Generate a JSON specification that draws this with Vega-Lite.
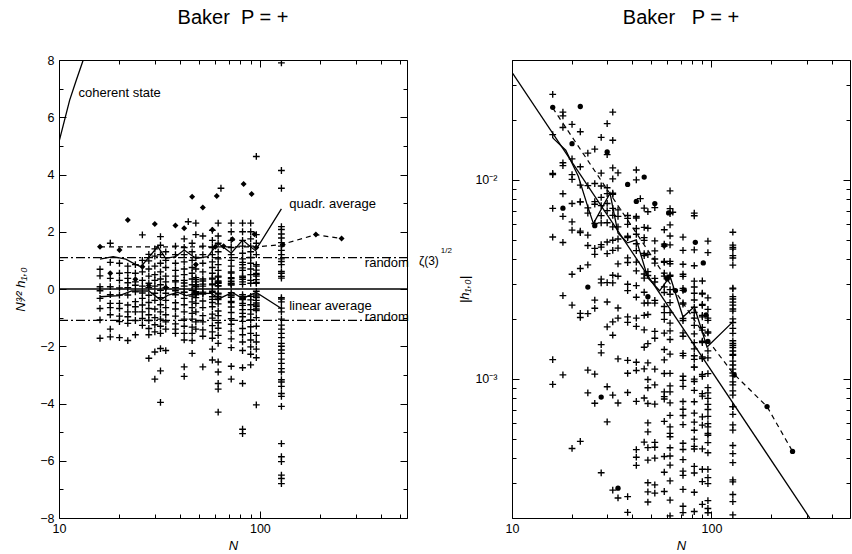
{
  "$schema": "https://vega.github.io/schema/vega-lite/v6.json",
  "padding": {"left": 14, "top": 7, "right": 0, "bottom": 0},
  "background": "white",
  "bounds": "flush",
  "spacing": 105,
  "config": {
    "font": "Liberation Sans",
    "view": {"stroke": "black", "strokeWidth": 1},
    "axis": {"grid": false, "domain": false, "tickColor": "black", "labelColor": "black", "titleColor": "black", "labelFontSize": 12.5, "titleFontSize": 13, "titleFontWeight": "normal", "labelOverlap": false, "labelBound": false, "labelFlush": false, "tickWidth": 1, "labelFont": "Liberation Sans", "titleFont": "Liberation Sans"},
    "title": {"fontSize": 20, "fontWeight": "normal", "color": "black", "font": "Liberation Sans"}
  },
  "datasets": {
    "cross": [
      {"N":16,"v":0.69,"h":0.01078},{"N":16,"v":0.46,"h":0.00719},{"N":16,"v":0.08,"h":0.00125},{"N":16,"v":-0.06,"h":0.000938},{"N":16,"v":-0.33,"h":0.00516},{"N":16,"v":-0.68,"h":0.01063},{"N":16,"v":-1.08,"h":0.01688},{"N":16,"v":-1.72,"h":0.02688},
      {"N":18,"v":1.6,"h":0.02095},{"N":18,"v":0.93,"h":0.01218},{"N":18,"v":0.37,"h":0.004845},{"N":18,"v":0.08,"h":0.001048},{"N":18,"v":-0.2,"h":0.002619},{"N":18,"v":-0.5,"h":0.006548},{"N":18,"v":-0.65,"h":0.008512},{"N":18,"v":-0.9,"h":0.01179},{"N":18,"v":-1.4,"h":0.01833},{"N":18,"v":-1.67,"h":0.02187},
      {"N":20,"v":0.9,"h":0.01006},{"N":20,"v":0.55,"h":0.006149},{"N":20,"v":0.3,"h":0.003354},{"N":20,"v":0.04,"h":0.000447},{"N":20,"v":-0.21,"h":0.002348},{"N":20,"v":-0.5,"h":0.00559},{"N":20,"v":-0.68,"h":0.007602},{"N":20,"v":-0.95,"h":0.01062},{"N":20,"v":-1.14,"h":0.01275},{"N":20,"v":-1.7,"h":0.01901},
      {"N":22,"v":0.8,"h":0.007753},{"N":22,"v":0.57,"h":0.005524},{"N":22,"v":0.37,"h":0.003586},{"N":22,"v":0.22,"h":0.002132},{"N":22,"v":0.05,"h":0.000485},{"N":22,"v":-0.21,"h":0.002035},{"N":22,"v":-0.56,"h":0.005427},{"N":22,"v":-0.8,"h":0.007753},{"N":22,"v":-0.97,"h":0.0094},{"N":22,"v":-1.2,"h":0.01163},{"N":22,"v":-1.8,"h":0.01744},
      {"N":24,"v":0.85,"h":0.007229},{"N":24,"v":0.55,"h":0.004678},{"N":24,"v":0.25,"h":0.002126},{"N":24,"v":0.13,"h":0.001106},{"N":24,"v":-0.1,"h":0.0008505},{"N":24,"v":-0.44,"h":0.003742},{"N":24,"v":-0.62,"h":0.005273},{"N":24,"v":-0.8,"h":0.006804},{"N":24,"v":-1.1,"h":0.009356},{"N":24,"v":-1.6,"h":0.01361},
      {"N":26,"v":1.89,"h":0.01426},{"N":26,"v":1.0,"h":0.007543},{"N":26,"v":0.6,"h":0.004526},{"N":26,"v":0.3,"h":0.002263},{"N":26,"v":0.1,"h":0.000754},{"N":26,"v":-0.14,"h":0.001056},{"N":26,"v":-0.33,"h":0.002489},{"N":26,"v":-0.56,"h":0.004224},{"N":26,"v":-0.8,"h":0.006034},{"N":26,"v":-1.03,"h":0.00777},{"N":26,"v":-1.27,"h":0.00958},
      {"N":28,"v":1.21,"h":0.008167},{"N":28,"v":0.98,"h":0.006614},{"N":28,"v":0.7,"h":0.004725},{"N":28,"v":0.45,"h":0.003037},{"N":28,"v":0.2,"h":0.00135},{"N":28,"v":0.05,"h":0.0003375},{"N":28,"v":-0.22,"h":0.001485},{"N":28,"v":-0.47,"h":0.003172},{"N":28,"v":-0.68,"h":0.00459},{"N":28,"v":-0.9,"h":0.006074},{"N":28,"v":-1.1,"h":0.007424},{"N":28,"v":-1.38,"h":0.009314},{"N":28,"v":-1.6,"h":0.0108},{"N":28,"v":-2.42,"h":0.01633},
      {"N":30,"v":1.4,"h":0.00852},{"N":30,"v":1.15,"h":0.006999},{"N":30,"v":0.8,"h":0.004869},{"N":30,"v":0.5,"h":0.003043},{"N":30,"v":0.3,"h":0.001826},{"N":30,"v":0.1,"h":0.0006086},{"N":30,"v":-0.15,"h":0.0009129},{"N":30,"v":-0.4,"h":0.002434},{"N":30,"v":-0.7,"h":0.00426},{"N":30,"v":-1.0,"h":0.006086},{"N":30,"v":-1.25,"h":0.007607},{"N":30,"v":-1.5,"h":0.009129},{"N":30,"v":-2.2,"h":0.01339},{"N":30,"v":-3.15,"h":0.01917},
      {"N":32,"v":1.83,"h":0.01011},{"N":32,"v":1.53,"h":0.008452},{"N":32,"v":1.2,"h":0.006629},{"N":32,"v":0.9,"h":0.004972},{"N":32,"v":0.6,"h":0.003315},{"N":32,"v":0.35,"h":0.001934},{"N":32,"v":0.15,"h":0.0008286},{"N":32,"v":-0.05,"h":0.0002762},{"N":32,"v":-0.3,"h":0.001657},{"N":32,"v":-0.55,"h":0.003038},{"N":32,"v":-0.8,"h":0.004419},{"N":32,"v":-1.05,"h":0.0058},{"N":32,"v":-1.3,"h":0.007182},{"N":32,"v":-1.55,"h":0.008563},{"N":32,"v":-2.08,"h":0.01149},{"N":32,"v":-2.86,"h":0.0158},{"N":32,"v":-3.96,"h":0.02188},
      {"N":34,"v":1.3,"h":0.006557},{"N":34,"v":1.0,"h":0.005044},{"N":34,"v":0.75,"h":0.003783},{"N":34,"v":0.45,"h":0.00227},{"N":34,"v":0.25,"h":0.001261},{"N":34,"v":0.05,"h":0.0002522},{"N":34,"v":-0.15,"h":0.0007566},{"N":34,"v":-0.4,"h":0.002018},{"N":34,"v":-0.65,"h":0.003279},{"N":34,"v":-0.9,"h":0.00454},{"N":34,"v":-1.15,"h":0.005801},{"N":34,"v":-1.4,"h":0.007062},{"N":34,"v":-2.15,"h":0.01084},
      {"N":38,"v":1.5,"h":0.006403},{"N":38,"v":1.2,"h":0.005123},{"N":38,"v":0.9,"h":0.003842},{"N":38,"v":0.65,"h":0.002775},{"N":38,"v":0.45,"h":0.001921},{"N":38,"v":0.29,"h":0.001238},{"N":38,"v":0.25,"h":0.001067},{"N":38,"v":0.05,"h":0.0002134},{"N":38,"v":-0.06,"h":0.0002561},{"N":38,"v":-0.2,"h":0.0008538},{"N":38,"v":-0.48,"h":0.002049},{"N":38,"v":-0.7,"h":0.002988},{"N":38,"v":-0.95,"h":0.004055},{"N":38,"v":-1.22,"h":0.005208},{"N":38,"v":-1.4,"h":0.005976},{"N":38,"v":-1.55,"h":0.006617},
      {"N":42,"v":1.75,"h":0.006429},{"N":42,"v":1.45,"h":0.005327},{"N":42,"v":1.2,"h":0.004409},{"N":42,"v":0.95,"h":0.00349},{"N":42,"v":0.7,"h":0.002572},{"N":42,"v":0.5,"h":0.001837},{"N":42,"v":0.3,"h":0.001102},{"N":42,"v":0.21,"h":0.0007715},{"N":42,"v":0.1,"h":0.0003674},{"N":42,"v":-0.11,"h":0.0004041},{"N":42,"v":-0.12,"h":0.0004409},{"N":42,"v":-0.33,"h":0.001212},{"N":42,"v":-0.55,"h":0.002021},{"N":42,"v":-0.8,"h":0.002939},{"N":42,"v":-1.05,"h":0.003858},{"N":42,"v":-1.3,"h":0.004776},{"N":42,"v":-1.55,"h":0.005695},{"N":42,"v":-1.78,"h":0.00654},{"N":42,"v":-2.72,"h":0.009993},{"N":42,"v":-3.05,"h":0.01121},
      {"N":44,"v":2.35,"h":0.008052},
      {"N":46,"v":1.6,"h":0.005128},{"N":46,"v":1.3,"h":0.004167},{"N":46,"v":1.0,"h":0.003205},{"N":46,"v":0.75,"h":0.002404},{"N":46,"v":0.55,"h":0.001763},{"N":46,"v":0.35,"h":0.001122},{"N":46,"v":0.15,"h":0.0004808},{"N":46,"v":-0.05,"h":0.0001603},{"N":46,"v":-0.25,"h":0.0008013},{"N":46,"v":-0.45,"h":0.001442},{"N":46,"v":-0.65,"h":0.002083},{"N":46,"v":-0.85,"h":0.002724},{"N":46,"v":-1.05,"h":0.003365},{"N":46,"v":-1.33,"h":0.004263},{"N":46,"v":-1.55,"h":0.004968},{"N":46,"v":-1.8,"h":0.005769},{"N":46,"v":-2.25,"h":0.007212},
      {"N":48,"v":2.3,"h":0.006916},{"N":48,"v":1.9,"h":0.005713},{"N":48,"v":1.1,"h":0.003308},{"N":48,"v":0.7,"h":0.002105},{"N":48,"v":0.4,"h":0.001203},{"N":48,"v":0.33,"h":0.0009923},{"N":48,"v":0.25,"h":0.0007518},{"N":48,"v":0.15,"h":0.0004511},{"N":48,"v":0.1,"h":0.0003007},{"N":48,"v":0.08,"h":0.0002406},{"N":48,"v":-0.09,"h":0.0002706},{"N":48,"v":-0.13,"h":0.0003909},{"N":48,"v":-0.18,"h":0.0005413},{"N":48,"v":-0.2,"h":0.0006014},{"N":48,"v":-0.3,"h":0.0009021},{"N":48,"v":-0.5,"h":0.001504},{"N":48,"v":-0.8,"h":0.002406},{"N":48,"v":-1.15,"h":0.003458},{"N":48,"v":-1.4,"h":0.00421},
      {"N":52,"v":1.85,"h":0.004934},{"N":52,"v":1.5,"h":0.004},{"N":52,"v":1.2,"h":0.0032},{"N":52,"v":0.9,"h":0.0024},{"N":52,"v":0.6,"h":0.0016},{"N":52,"v":0.35,"h":0.0009334},{"N":52,"v":0.28,"h":0.0007467},{"N":52,"v":0.17,"h":0.0004534},{"N":52,"v":0.1,"h":0.0002667},{"N":52,"v":-0.11,"h":0.0002933},{"N":52,"v":-0.15,"h":0.0004},{"N":52,"v":-0.18,"h":0.00048},{"N":52,"v":-0.42,"h":0.00112},{"N":52,"v":-0.65,"h":0.001733},{"N":52,"v":-0.93,"h":0.00248},{"N":52,"v":-1.15,"h":0.003067},{"N":52,"v":-1.43,"h":0.003814},{"N":52,"v":-1.65,"h":0.0044},{"N":52,"v":-2.72,"h":0.007254},
      {"N":58,"v":2.05,"h":0.004641},{"N":58,"v":1.7,"h":0.003849},{"N":58,"v":1.45,"h":0.003283},{"N":58,"v":1.2,"h":0.002717},{"N":58,"v":0.95,"h":0.002151},{"N":58,"v":0.75,"h":0.001698},{"N":58,"v":0.55,"h":0.001245},{"N":58,"v":0.38,"h":0.0008603},{"N":58,"v":0.35,"h":0.0007924},{"N":58,"v":0.18,"h":0.0004075},{"N":58,"v":0.15,"h":0.0003396},{"N":58,"v":-0.08,"h":0.0001811},{"N":58,"v":-0.12,"h":0.0002717},{"N":58,"v":-0.27,"h":0.0006113},{"N":58,"v":-0.36,"h":0.000815},{"N":58,"v":-0.47,"h":0.001064},{"N":58,"v":-0.62,"h":0.001404},{"N":58,"v":-0.88,"h":0.001992},{"N":58,"v":-1.02,"h":0.002309},{"N":58,"v":-1.28,"h":0.002898},{"N":58,"v":-1.5,"h":0.003396},{"N":58,"v":-1.72,"h":0.003894},{"N":58,"v":-2.1,"h":0.004754},{"N":58,"v":-2.48,"h":0.005614},
      {"N":62,"v":2.3,"h":0.004711},{"N":62,"v":1.85,"h":0.00379},{"N":62,"v":1.6,"h":0.003277},{"N":62,"v":1.3,"h":0.002663},{"N":62,"v":1.05,"h":0.002151},{"N":62,"v":0.85,"h":0.001741},{"N":62,"v":0.65,"h":0.001331},{"N":62,"v":0.45,"h":0.0009218},{"N":62,"v":0.42,"h":0.0008603},{"N":62,"v":0.28,"h":0.0005736},{"N":62,"v":0.25,"h":0.0005121},{"N":62,"v":0.22,"h":0.0004506},{"N":62,"v":0.2,"h":0.0004097},{"N":62,"v":0.12,"h":0.0002458},{"N":62,"v":0.1,"h":0.0002048},{"N":62,"v":-0.15,"h":0.0003073},{"N":62,"v":-0.18,"h":0.0003687},{"N":62,"v":-0.26,"h":0.0005326},{"N":62,"v":-0.32,"h":0.0006555},{"N":62,"v":-0.37,"h":0.0007579},{"N":62,"v":-0.52,"h":0.001065},{"N":62,"v":-0.77,"h":0.001577},{"N":62,"v":-0.93,"h":0.001905},{"N":62,"v":-1.18,"h":0.002417},{"N":62,"v":-1.37,"h":0.002806},{"N":62,"v":-1.62,"h":0.003318},{"N":62,"v":-1.9,"h":0.003892},{"N":62,"v":-2.55,"h":0.005223},{"N":62,"v":-2.9,"h":0.00594},{"N":62,"v":-3.3,"h":0.00676},{"N":62,"v":-3.5,"h":0.007169},{"N":62,"v":-4.3,"h":0.008808},
      {"N":64,"v":3.52,"h":0.006875},
      {"N":72,"v":2.3,"h":0.003765},{"N":72,"v":2.0,"h":0.003274},{"N":72,"v":1.7,"h":0.002783},{"N":72,"v":1.45,"h":0.002373},{"N":72,"v":1.2,"h":0.001964},{"N":72,"v":1.0,"h":0.001637},{"N":72,"v":0.8,"h":0.001309},{"N":72,"v":0.6,"h":0.000982},{"N":72,"v":0.56,"h":0.0009166},{"N":72,"v":0.4,"h":0.0006547},{"N":72,"v":0.36,"h":0.0005892},{"N":72,"v":0.27,"h":0.0004419},{"N":72,"v":0.2,"h":0.0003274},{"N":72,"v":0.17,"h":0.0002783},{"N":72,"v":0.14,"h":0.0002292},{"N":72,"v":-0.13,"h":0.0002128},{"N":72,"v":-0.21,"h":0.0003437},{"N":72,"v":-0.24,"h":0.0003928},{"N":72,"v":-0.29,"h":0.0004747},{"N":72,"v":-0.43,"h":0.0007038},{"N":72,"v":-0.47,"h":0.0007693},{"N":72,"v":-0.63,"h":0.001031},{"N":72,"v":-0.82,"h":0.001342},{"N":72,"v":-1.04,"h":0.001702},{"N":72,"v":-1.23,"h":0.002013},{"N":72,"v":-1.47,"h":0.002406},{"N":72,"v":-1.74,"h":0.002848},{"N":72,"v":-2.05,"h":0.003355},{"N":72,"v":-2.7,"h":0.004419},{"N":72,"v":-3.15,"h":0.005156},
      {"N":82,"v":2.3,"h":0.003097},{"N":82,"v":2.0,"h":0.002693},{"N":82,"v":1.7,"h":0.002289},{"N":82,"v":1.5,"h":0.00202},{"N":82,"v":1.25,"h":0.001683},{"N":82,"v":1.05,"h":0.001414},{"N":82,"v":0.93,"h":0.001252},{"N":82,"v":0.85,"h":0.001145},{"N":82,"v":0.74,"h":0.0009966},{"N":82,"v":0.65,"h":0.0008754},{"N":82,"v":0.45,"h":0.000606},{"N":82,"v":0.41,"h":0.0005521},{"N":82,"v":0.34,"h":0.0004579},{"N":82,"v":0.25,"h":0.0003367},{"N":82,"v":0.16,"h":0.0002155},{"N":82,"v":-0.2,"h":0.0002693},{"N":82,"v":-0.27,"h":0.0003636},{"N":82,"v":-0.33,"h":0.0004444},{"N":82,"v":-0.37,"h":0.0004983},{"N":82,"v":-0.5,"h":0.0006734},{"N":82,"v":-0.57,"h":0.0007676},{"N":82,"v":-0.72,"h":0.0009696},{"N":82,"v":-0.85,"h":0.001145},{"N":82,"v":-0.97,"h":0.001306},{"N":82,"v":-1.13,"h":0.001522},{"N":82,"v":-1.38,"h":0.001858},{"N":82,"v":-1.6,"h":0.002155},{"N":82,"v":-1.85,"h":0.002491},{"N":82,"v":-2.15,"h":0.002895},{"N":82,"v":-2.75,"h":0.003703},{"N":82,"v":-3.3,"h":0.004444},{"N":82,"v":-4.9,"h":0.006599},{"N":82,"v":-5.05,"h":0.006801},
      {"N":90,"v":2.3,"h":0.002694},{"N":90,"v":2.0,"h":0.002342},{"N":90,"v":1.75,"h":0.00205},{"N":90,"v":1.5,"h":0.001757},{"N":90,"v":1.3,"h":0.001523},{"N":90,"v":1.1,"h":0.001288},{"N":90,"v":0.9,"h":0.001054},{"N":90,"v":0.7,"h":0.0008198},{"N":90,"v":0.5,"h":0.0005856},{"N":90,"v":0.3,"h":0.0003514},{"N":90,"v":0.2,"h":0.0002342},{"N":90,"v":-0.26,"h":0.0003045},{"N":90,"v":-0.38,"h":0.0004451},{"N":90,"v":-0.55,"h":0.0006442},{"N":90,"v":-0.72,"h":0.0008433},{"N":90,"v":-0.88,"h":0.001031},{"N":90,"v":-1.08,"h":0.001265},{"N":90,"v":-1.32,"h":0.001546},{"N":90,"v":-1.55,"h":0.001815},{"N":90,"v":-1.78,"h":0.002085},{"N":90,"v":-2.02,"h":0.002366},{"N":90,"v":-2.28,"h":0.00267},{"N":90,"v":-2.65,"h":0.003104},
      {"N":96,"v":4.63,"h":0.004923},{"N":96,"v":1.9,"h":0.00202},{"N":96,"v":1.6,"h":0.001701},{"N":96,"v":1.2,"h":0.001276},{"N":96,"v":0.85,"h":0.0009037},{"N":96,"v":0.8,"h":0.0008506},{"N":96,"v":0.66,"h":0.0007017},{"N":96,"v":0.54,"h":0.0005741},{"N":96,"v":0.5,"h":0.0005316},{"N":96,"v":0.45,"h":0.0004784},{"N":96,"v":0.33,"h":0.0003509},{"N":96,"v":0.23,"h":0.0002445},{"N":96,"v":0.2,"h":0.0002126},{"N":96,"v":-0.08,"h":0.00008506},{"N":96,"v":-0.21,"h":0.0002233},{"N":96,"v":-0.28,"h":0.0002977},{"N":96,"v":-0.3,"h":0.000319},{"N":96,"v":-0.4,"h":0.0004253},{"N":96,"v":-0.49,"h":0.000521},{"N":96,"v":-0.56,"h":0.0005954},{"N":96,"v":-0.61,"h":0.0006486},{"N":96,"v":-0.7,"h":0.0007442},{"N":96,"v":-0.75,"h":0.0007974},{"N":96,"v":-1.0,"h":0.001063},{"N":96,"v":-1.3,"h":0.001382},{"N":96,"v":-1.62,"h":0.001722},{"N":96,"v":-1.85,"h":0.001967},{"N":96,"v":-2.1,"h":0.002233},{"N":96,"v":-2.4,"h":0.002552},{"N":96,"v":-4.05,"h":0.004306},
      {"N":128,"v":7.9,"h":0.005455},{"N":128,"v":4.14,"h":0.002859},{"N":128,"v":3.52,"h":0.002431},{"N":128,"v":2.18,"h":0.001505},{"N":128,"v":2.08,"h":0.001436},{"N":128,"v":1.92,"h":0.001326},{"N":128,"v":1.78,"h":0.001229},{"N":128,"v":1.62,"h":0.001119},{"N":128,"v":1.5,"h":0.001036},{"N":128,"v":1.35,"h":0.0009322},{"N":128,"v":1.2,"h":0.0008286},{"N":128,"v":1.05,"h":0.0007251},{"N":128,"v":0.96,"h":0.0006629},{"N":128,"v":0.85,"h":0.000587},{"N":128,"v":0.61,"h":0.0004212},{"N":128,"v":0.55,"h":0.0003798},{"N":128,"v":0.44,"h":0.0003038},{"N":128,"v":0.38,"h":0.0002624},{"N":128,"v":-0.3,"h":0.0002072},{"N":128,"v":-0.35,"h":0.0002417},{"N":128,"v":-0.45,"h":0.0003107},{"N":128,"v":-0.67,"h":0.0004627},{"N":128,"v":-0.8,"h":0.0005524},{"N":128,"v":-1.05,"h":0.0007251},{"N":128,"v":-1.26,"h":0.0008701},{"N":128,"v":-1.4,"h":0.0009667},{"N":128,"v":-1.55,"h":0.00107},{"N":128,"v":-1.7,"h":0.001174},{"N":128,"v":-1.9,"h":0.001312},{"N":128,"v":-2.0,"h":0.001381},{"N":128,"v":-2.13,"h":0.001471},{"N":128,"v":-2.25,"h":0.001554},{"N":128,"v":-2.45,"h":0.001692},{"N":128,"v":-2.6,"h":0.001795},{"N":128,"v":-2.78,"h":0.00192},{"N":128,"v":-2.9,"h":0.002003},{"N":128,"v":-3.17,"h":0.002189},{"N":128,"v":-3.25,"h":0.002244},{"N":128,"v":-3.4,"h":0.002348},{"N":128,"v":-3.65,"h":0.00252},{"N":128,"v":-3.75,"h":0.002589},{"N":128,"v":-4.1,"h":0.002831},{"N":128,"v":-5.4,"h":0.003729},{"N":128,"v":-5.86,"h":0.004047},{"N":128,"v":-6.03,"h":0.004164},{"N":128,"v":-6.5,"h":0.004488},{"N":128,"v":-6.62,"h":0.004571},{"N":128,"v":-6.8,"h":0.004696}
    ],
    "dots": [
      {"N":16,"v":1.48,"h":0.02313},{"N":18,"v":0.55,"h":0.007202},{"N":20,"v":1.36,"h":0.0152},{"N":22,"v":2.41,"h":0.02336},{"N":24,"v":0.34,"h":0.002892},{"N":26,"v":0.78,"h":0.005884},{"N":28,"v":0.12,"h":0.00081},{"N":30,"v":2.27,"h":0.01381},{"N":34,"v":0.056,"h":0.0002825},{"N":38,"v":2.22,"h":0.009477},{"N":42,"v":2.12,"h":0.007789},{"N":46,"v":3.22,"h":0.01032},{"N":48,"v":0.86,"h":0.002586},{"N":52,"v":2.85,"h":0.0076},{"N":58,"v":2.07,"h":0.004686},{"N":60,"v":1.48,"h":0.003184},{"N":61,"v":3.25,"h":0.006822},{"N":66,"v":1.49,"h":0.002779},{"N":73,"v":1.74,"h":0.00279},{"N":83,"v":3.67,"h":0.004853},{"N":91,"v":3.32,"h":0.003824},{"N":94,"v":1.91,"h":0.002096},{"N":96,"v":1.45,"h":0.001542},{"N":130,"v":1.55,"h":0.001046},{"N":190,"v":1.9,"h":0.0007255},{"N":255,"v":1.76,"h":0.0004322}
    ],
    "lines": [
      {"s":"quadr","N":16,"v":1.04,"h":0.01625},{"s":"quadr","N":18.6,"v":1.13,"h":0.01409},{"s":"quadr","N":21.5,"v":1.04,"h":0.01043},{"s":"quadr","N":24,"v":0.86,"h":0.007314},{"s":"quadr","N":25.6,"v":0.78,"h":0.006023},{"s":"quadr","N":31,"v":1.48,"h":0.008575},{"s":"quadr","N":34,"v":1.07,"h":0.005397},{"s":"quadr","N":38,"v":1.13,"h":0.004824},{"s":"quadr","N":42,"v":1.36,"h":0.004997},{"s":"quadr","N":48,"v":1.07,"h":0.003218},{"s":"quadr","N":55,"v":1.13,"h":0.00277},{"s":"quadr","N":62,"v":1.6,"h":0.003277},{"s":"quadr","N":72,"v":1.25,"h":0.002046},{"s":"quadr","N":82,"v":1.71,"h":0.002303},{"s":"quadr","N":95,"v":1.34,"h":0.001447},{"s":"quadr","N":128,"v":2.8,"h":0.001933},
      {"s":"linear","N":16,"v":-0.27},{"s":"linear","N":20,"v":-0.23},{"s":"linear","N":23,"v":-0.07},{"s":"linear","N":28,"v":-0.07},{"s":"linear","N":32,"v":-0.38},{"s":"linear","N":35,"v":-0.21},{"s":"linear","N":39,"v":-0.12},{"s":"linear","N":43,"v":-0.23},{"s":"linear","N":48,"v":-0.15},{"s":"linear","N":57,"v":-0.15},{"s":"linear","N":63,"v":-0.33},{"s":"linear","N":73,"v":-0.12},{"s":"linear","N":82,"v":-0.33},{"s":"linear","N":96,"v":-0.12},{"s":"linear","N":128,"v":-0.68},
      {"s":"coherent","N":10,"v":5.14},{"s":"coherent","N":11.3,"v":6.6},{"s":"coherent","N":12.2,"v":7.3},{"s":"coherent","N":13.2,"v":8.0},
      {"s":"zero","N":10,"v":0},{"s":"zero","N":540,"v":0},
      {"s":"rp","N":10,"v":1.0964},{"s":"rp","N":540,"v":1.0964},
      {"s":"rm","N":10,"v":-1.0964},{"s":"rm","N":540,"v":-1.0964},
      {"s":"dash","N":16,"v":1.47,"h":0.02297},{"s":"dash","N":96,"v":1.47,"h":0.001563},{"s":"dash","N":128,"v":1.55,"h":0.00107},{"s":"dash","N":190,"v":1.9,"h":0.0007255},{"s":"dash","N":255,"v":1.76,"h":0.0004322},
      {"s":"law","N":10,"h":0.03467},{"s":"law","N":311,"h":0.0002}
    ],
    "labels": [
      {"t":"coherent state","N":12.5,"v":6.85},
      {"t":"quadr. average","N":140,"v":2.97},
      {"t":"random","N":333,"v":0.91},
      {"t":"linear average","N":140,"v":-0.59},
      {"t":"random","N":333,"v":-0.98}
    ],
    "zeta": [
      {"t":"ζ(3)","N":619,"v":0.98}
    ],
    "sup": [
      {"t":"1/2","N":796,"v":1.33}
    ]
  },
  "hconcat": [
    {
      "width": 348,
      "height": 458,
      "title": {"text": "Baker\u00a0\u00a0P = +", "offset": 10, "baseline": "alphabetic"},
      "resolve": {"axis": {"x": "independent", "y": "independent"}},
      "layer": [
        {
          "data": {"name": "cross"},
          "mark": {"type": "point", "shape": "M-1,0L1,0M0,-1L0,1", "filled": false, "color": "black", "strokeWidth": 1.35, "size": 46, "opacity": 1, "clip": true},
          "encoding": {
            "x": {"field": "N", "type": "quantitative", "scale": {"type": "log", "domain": [10, 540], "nice": false},
              "axis": {"orient": "bottom", "values": [10,20,30,40,50,60,70,80,90,100,200,300,400,500], "labelExpr": "datum.value == 10 || datum.value == 100 ? format(datum.value, 'd') : ''", "tickSize": {"condition": {"test": "datum.value == 10 || datum.value == 100", "value": -7}, "value": -4}, "labelPadding": 11, "title": "N", "titleFontStyle": "italic", "titlePadding": 2}},
            "y": {"field": "v", "type": "quantitative", "scale": {"domain": [-8, 8], "nice": false, "zero": false},
              "axis": {"orient": "left", "values": [-8,-7,-6,-5,-4,-3,-2,-1,0,1,2,3,4,5,6,7,8], "labelExpr": "datum.value % 2 == 0 ? format(datum.value, 'd') : ''", "tickSize": {"condition": {"test": "datum.value % 2 == 0", "value": -7}, "value": -4}, "labelPadding": 12, "title": "N³⁄² h₁,₀", "titleFontStyle": "italic", "titlePadding": 12}}
          }
        },
        {
          "data": {"name": "dots"},
          "mark": {"type": "point", "shape": "diamond", "filled": true, "color": "black", "size": 36, "opacity": 1, "clip": true},
          "encoding": {
            "x": {"field": "N", "type": "quantitative", "scale": {"type": "log", "domain": [10, 540], "nice": false},
              "axis": {"orient": "top", "values": [10,20,30,40,50,60,70,80,90,100,200,300,400,500], "labels": false, "title": null, "tickSize": {"condition": {"test": "datum.value == 10 || datum.value == 100", "value": -7}, "value": -4}}},
            "y": {"field": "v", "type": "quantitative", "scale": {"domain": [-8, 8], "nice": false, "zero": false},
              "axis": {"orient": "right", "values": [-8,-7,-6,-5,-4,-3,-2,-1,0,1,2,3,4,5,6,7,8], "labels": false, "title": null, "tickSize": {"condition": {"test": "datum.value % 2 == 0", "value": -7}, "value": -4}}}
          }
        },
        {
          "data": {"name": "lines"},
          "transform": [{"filter": "datum.s == 'quadr' || datum.s == 'linear' || datum.s == 'coherent' || datum.s == 'zero'"}],
          "mark": {"type": "line", "color": "black", "strokeWidth": 1.3, "clip": true},
          "encoding": {
            "x": {"field": "N", "type": "quantitative", "scale": {"type": "log", "domain": [10, 540], "nice": false}, "axis": null},
            "y": {"field": "v", "type": "quantitative", "scale": {"domain": [-8, 8], "nice": false, "zero": false}, "axis": null},
            "detail": {"field": "s"}
          }
        },
        {
          "data": {"name": "lines"},
          "transform": [{"filter": "datum.s == 'dash'"}],
          "mark": {"type": "line", "color": "black", "strokeWidth": 1.2, "strokeDash": [5, 4], "clip": true},
          "encoding": {
            "x": {"field": "N", "type": "quantitative", "scale": {"type": "log", "domain": [10, 540], "nice": false}, "axis": null},
            "y": {"field": "v", "type": "quantitative", "scale": {"domain": [-8, 8], "nice": false, "zero": false}, "axis": null}
          }
        },
        {
          "data": {"name": "lines"},
          "transform": [{"filter": "datum.s == 'rp' || datum.s == 'rm'"}],
          "mark": {"type": "line", "color": "black", "strokeWidth": 1.1, "strokeDash": [9, 3, 2, 3], "clip": true},
          "encoding": {
            "x": {"field": "N", "type": "quantitative", "scale": {"type": "log", "domain": [10, 540], "nice": false}, "axis": null},
            "y": {"field": "v", "type": "quantitative", "scale": {"domain": [-8, 8], "nice": false, "zero": false}, "axis": null},
            "detail": {"field": "s"}
          }
        },
        {
          "data": {"name": "labels"},
          "mark": {"type": "text", "align": "left", "baseline": "middle", "fontSize": 13, "color": "black", "font": "Liberation Sans"},
          "encoding": {
            "x": {"field": "N", "type": "quantitative", "scale": {"type": "log", "domain": [10, 540], "nice": false}, "axis": null},
            "y": {"field": "v", "type": "quantitative", "scale": {"domain": [-8, 8], "nice": false, "zero": false}, "axis": null},
            "text": {"field": "t"}
          }
        },
        {
          "data": {"name": "zeta"},
          "mark": {"type": "text", "align": "left", "baseline": "middle", "fontSize": 12, "color": "black", "font": "Liberation Sans"},
          "encoding": {
            "x": {"field": "N", "type": "quantitative", "scale": {"type": "log", "domain": [10, 540], "nice": false}, "axis": null},
            "y": {"field": "v", "type": "quantitative", "scale": {"domain": [-8, 8], "nice": false, "zero": false}, "axis": null},
            "text": {"field": "t"}
          }
        },
        {
          "data": {"name": "sup"},
          "mark": {"type": "text", "align": "left", "baseline": "middle", "fontSize": 8, "color": "black", "font": "Liberation Sans"},
          "encoding": {
            "x": {"field": "N", "type": "quantitative", "scale": {"type": "log", "domain": [10, 540], "nice": false}, "axis": null},
            "y": {"field": "v", "type": "quantitative", "scale": {"domain": [-8, 8], "nice": false, "zero": false}, "axis": null},
            "text": {"field": "t"}
          }
        }
      ]
    },
    {
      "width": 338,
      "height": 458,
      "title": {"text": "Baker\u00a0\u00a0\u00a0P = +", "offset": 10, "baseline": "alphabetic"},
      "resolve": {"axis": {"x": "independent", "y": "independent"}},
      "layer": [
        {
          "data": {"name": "cross"},
          "mark": {"type": "point", "shape": "M-1,0L1,0M0,-1L0,1", "filled": false, "color": "black", "strokeWidth": 1.35, "size": 46, "opacity": 1, "clip": true},
          "encoding": {
            "x": {"field": "N", "type": "quantitative", "scale": {"type": "log", "domain": [10, 495], "nice": false},
              "axis": {"orient": "bottom", "values": [10,20,30,40,50,60,70,80,90,100,200,300,400], "labelExpr": "datum.value == 10 || datum.value == 100 ? format(datum.value, 'd') : ''", "tickSize": {"condition": {"test": "datum.value == 10 || datum.value == 100", "value": -7}, "value": -4}, "labelPadding": 11, "title": "N", "titleFontStyle": "italic", "titlePadding": 2}},
            "y": {"field": "h", "type": "quantitative", "scale": {"type": "log", "domain": [0.0002, 0.04], "nice": false},
              "axis": {"orient": "left", "values": [0.0002,0.0003,0.0004,0.0005,0.0006,0.0007,0.0008,0.0009,0.001,0.002,0.003,0.004,0.005,0.006,0.007,0.008,0.009,0.01,0.02,0.03,0.04], "labelExpr": "datum.value == 0.01 ? '10⁻²' : (datum.value == 0.001 ? '10⁻³' : '')", "tickSize": {"condition": {"test": "datum.value == 0.01 || datum.value == 0.001", "value": -7}, "value": -4}, "labelPadding": 22, "title": "|h₁,₀|", "titleFontStyle": "italic", "titlePadding": 3}}
          }
        },
        {
          "data": {"name": "dots"},
          "mark": {"type": "point", "shape": "circle", "filled": true, "color": "black", "size": 28, "opacity": 1, "clip": true},
          "encoding": {
            "x": {"field": "N", "type": "quantitative", "scale": {"type": "log", "domain": [10, 495], "nice": false},
              "axis": {"orient": "top", "values": [10,20,30,40,50,60,70,80,90,100,200,300,400], "labels": false, "title": null, "tickSize": {"condition": {"test": "datum.value == 10 || datum.value == 100", "value": -7}, "value": -4}}},
            "y": {"field": "h", "type": "quantitative", "scale": {"type": "log", "domain": [0.0002, 0.04], "nice": false},
              "axis": {"orient": "right", "values": [0.0002,0.0003,0.0004,0.0005,0.0006,0.0007,0.0008,0.0009,0.001,0.002,0.003,0.004,0.005,0.006,0.007,0.008,0.009,0.01,0.02,0.03,0.04], "labels": false, "title": null, "tickSize": {"condition": {"test": "datum.value == 0.01 || datum.value == 0.001", "value": -7}, "value": -4}}}
          }
        },
        {
          "data": {"name": "lines"},
          "transform": [{"filter": "datum.s == 'quadr' || datum.s == 'law'"}],
          "mark": {"type": "line", "color": "black", "strokeWidth": 1.3, "clip": true},
          "encoding": {
            "x": {"field": "N", "type": "quantitative", "scale": {"type": "log", "domain": [10, 495], "nice": false}, "axis": null},
            "y": {"field": "h", "type": "quantitative", "scale": {"type": "log", "domain": [0.0002, 0.04], "nice": false}, "axis": null},
            "detail": {"field": "s"}
          }
        },
        {
          "data": {"name": "lines"},
          "transform": [{"filter": "datum.s == 'dash'"}],
          "mark": {"type": "line", "color": "black", "strokeWidth": 1.2, "strokeDash": [5, 4], "clip": true},
          "encoding": {
            "x": {"field": "N", "type": "quantitative", "scale": {"type": "log", "domain": [10, 495], "nice": false}, "axis": null},
            "y": {"field": "h", "type": "quantitative", "scale": {"type": "log", "domain": [0.0002, 0.04], "nice": false}, "axis": null}
          }
        }
      ]
    }
  ]
}
